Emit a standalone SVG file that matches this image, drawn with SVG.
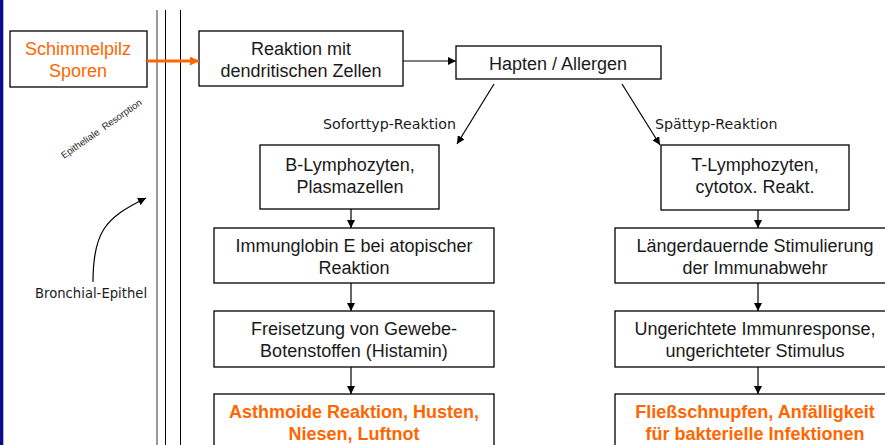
<svg xmlns="http://www.w3.org/2000/svg" width="885" height="445" viewBox="0 0 885 445">
<defs>
<style>
.box{fill:#fff;stroke:#000;stroke-width:1.3}
.t{font-family:"Liberation Sans",Arial,sans-serif;font-size:18px;fill:#1a1a1a;text-anchor:middle}
.o{fill:#ff6600}
.b{font-weight:bold}
.lbl{font-family:"DejaVu Sans",Verdana,sans-serif;font-size:14.2px;fill:#1a1a1a}
.ln{stroke:#000;stroke-width:1.2;fill:none}
</style>
<marker id="ah" viewBox="0 0 10 10" refX="10" refY="5" markerWidth="8" markerHeight="8" markerUnits="userSpaceOnUse" orient="auto"><path d="M0,0 L10,5 L0,10 z" fill="#000"/></marker>
<marker id="aho" viewBox="0 0 10 10" refX="10" refY="5" markerWidth="3" markerHeight="3" orient="auto"><path d="M0,0 L10,5 L0,10 z" fill="#ff6600"/></marker>
</defs>
<rect x="0" y="0" width="885" height="445" fill="#fff"/>
<rect x="0" y="0" width="3.3" height="445" fill="#0a0a8c"/>
<g id="membrane">
<line x1="157" y1="10" x2="157" y2="445" stroke="#555" stroke-width="1.2"/>
<line x1="165.5" y1="10" x2="165.5" y2="445" stroke="#000" stroke-width="1"/>
<line x1="180.5" y1="10" x2="180.5" y2="445" stroke="#000" stroke-width="1"/>
</g>
<g id="epithel-label">
<text class="lbl" x="35" y="298" style="font-size:13.2px">Bronchial-Epithel</text>
<text x="0" y="0" transform="translate(64,159) rotate(-35)" font-family="Liberation Sans,Arial,sans-serif" font-size="9.6" fill="#1a1a1a" xml:space="preserve">Epitheliale  Resorption</text>
</g>
<g id="n-sporen"><rect class="box" x="10" y="31" width="137" height="56"/><text class="t o" x="78" y="55">Schimmelpilz</text><text class="t o" x="78" y="77">Sporen</text></g>
<g id="n-dendr"><rect class="box" x="199" y="31" width="204" height="55"/><text class="t" x="301" y="55">Reaktion mit</text><text class="t" x="301" y="77">dendritischen Zellen</text></g>
<g id="n-hapten"><rect class="box" x="456" y="46" width="205" height="33"/><text class="t" x="558" y="70">Hapten / Allergen</text></g>
<g id="n-blym"><rect class="box" x="260" y="145" width="179" height="64"/><text class="t" x="350" y="171">B-Lymphozyten,</text><text class="t" x="350" y="193">Plasmazellen</text></g>
<g id="n-tlym"><rect class="box" x="661" y="145" width="188" height="65"/><text class="t" x="755" y="171">T-Lymphozyten,</text><text class="t" x="755" y="193">cytotox. Reakt.</text></g>
<g id="n-ige"><rect class="box" x="214" y="228" width="280" height="55"/><text class="t" x="354" y="252">Immunglobin E bei atopischer</text><text class="t" x="354" y="274">Reaktion</text></g>
<g id="n-hist"><rect class="box" x="214" y="311" width="280" height="56"/><text class="t" x="354" y="335">Freisetzung von Gewebe-</text><text class="t" x="354" y="357">Botenstoffen (Histamin)</text></g>
<g id="n-asth"><rect class="box" x="214" y="394" width="280" height="60"/><text class="t o b" x="354" y="418">Asthmoide Reaktion, Husten,</text><text class="t o b" x="354" y="440">Niesen, Luftnot</text></g>
<g id="n-stim"><rect class="box" x="615" y="228" width="280" height="55"/><text class="t" x="755" y="252">Längerdauernde Stimulierung</text><text class="t" x="755" y="274">der Immunabwehr</text></g>
<g id="n-unger"><rect class="box" x="615" y="311" width="280" height="56"/><text class="t" x="755" y="335">Ungerichtete Immunresponse,</text><text class="t" x="755" y="357">ungerichteter Stimulus</text></g>
<g id="n-flies"><rect class="box" x="615" y="394" width="280" height="60"/><text class="t o b" x="755" y="418">Fließschnupfen, Anfälligkeit</text><text class="t o b" x="755" y="440">für bakterielle Infektionen</text></g>
<g id="connectors">
<line x1="147" y1="61" x2="199" y2="61" stroke="#ff6600" stroke-width="3" marker-end="url(#aho)"/>
<line class="ln" x1="403" y1="61" x2="456" y2="61" marker-end="url(#ah)"/>
<line class="ln" x1="494" y1="84" x2="457" y2="144" marker-end="url(#ah)"/>
<line class="ln" x1="622" y1="84" x2="660" y2="145" marker-end="url(#ah)"/>
<path class="ln" d="M93,282 C93,232 105,218 146,198" marker-end="url(#ah)"/>
<line class="ln" x1="351" y1="209" x2="351" y2="228" marker-end="url(#ah)"/>
<line class="ln" x1="351" y1="283" x2="351" y2="311" marker-end="url(#ah)"/>
<line class="ln" x1="351" y1="367" x2="351" y2="394" marker-end="url(#ah)"/>
<line class="ln" x1="758" y1="210" x2="758" y2="228" marker-end="url(#ah)"/>
<line class="ln" x1="758" y1="283" x2="758" y2="311" marker-end="url(#ah)"/>
<line class="ln" x1="758" y1="367" x2="758" y2="394" marker-end="url(#ah)"/>
<text class="lbl" x="323" y="129">Soforttyp-Reaktion</text>
<text class="lbl" x="655" y="129">Spättyp-Reaktion</text>
</g>
</svg>
